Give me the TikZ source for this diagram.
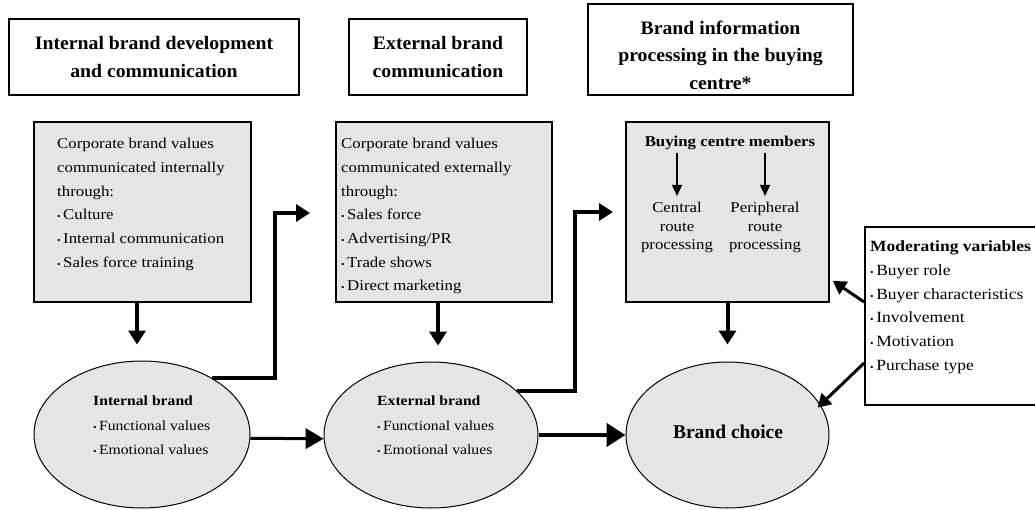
\documentclass[tikz,border=0pt]{standalone}
\usepackage{fontspec}
\setmainfont{Liberation Serif}
\newfontfamily\bodyfont{Liberation Serif}[FakeStretch=1.12]
\newfontfamily\headfont{Liberation Serif}[FakeStretch=1.04]
\usetikzlibrary{arrows.meta,shapes.geometric}
\newcommand\itm{{\fontsize{9}{9}\selectfont\textbullet}\,}

\begin{document}
\begin{tikzpicture}[x=1pt,y=-1pt,
  head/.style={draw, line width=1.3pt, inner sep=0pt},
  headtext/.style={align=center, inner sep=0pt, font=\headfont\bfseries\fontsize{19}{27.5}\selectfont},
  panel/.style={draw, line width=1.8pt, fill=black!10, inner sep=0pt},
  oval/.style={ellipse, draw, line width=1pt, fill=black!10, inner sep=0pt},
  txt/.style={anchor=north west, align=left, inner sep=0pt, font=\bodyfont\fontsize{15}{23.7}\selectfont},
  ovaltxt/.style={anchor=north west, align=left, inner sep=0pt, font=\bodyfont\fontsize{14}{24.5}\selectfont},
  route/.style={anchor=north, align=center, inner sep=0pt, font=\bodyfont\fontsize{15}{18.5}\selectfont},
  heavy/.style={line width=4pt, -{Triangle[width=17pt,length=14pt]}},
  thinarrow/.style={line width=1.2pt, -{Triangle[width=10pt,length=11pt]}},
  modarrow/.style={line width=3pt, -{Triangle[width=15pt,length=13pt]}},
]
\useasboundingbox (0,0) rectangle (1035,510);
\clip (0,0) rectangle (1035,510);

% column headings
\node[head, minimum width=290, minimum height=76] (H1) at (154,57) {};
\node[headtext] at (H1.center) {Internal brand development\\and communication};
\node[head, minimum width=178, minimum height=76] (H2) at (438,57) {};
\node[headtext] at (H2.center) {External brand\\communication};
\node[head, minimum width=265, minimum height=91] (H3) at (720.5,49.5) {};
\node[headtext] at ([yshift=-5.5pt]H3.center) {Brand information\\processing in the buying\\centre*};

% grey panels
\node[panel, minimum width=217, minimum height=180] (B1) at (142.5,212) {};
\node[panel, minimum width=216, minimum height=180] (B2) at (444,212) {};
\node[panel, minimum width=203, minimum height=180] (B3) at (727.5,212) {};

\node[txt] (T1) at (57,138) {Corporate brand values\\communicated internally\\through:\\\itm Culture\\\itm Internal communication\\\itm Sales force training};
\node[txt] (T2) at (341,138) {Corporate brand values\\communicated externally\\through:\\\itm Sales force\\\itm Advertising/PR\\\itm Trade shows\\\itm Direct marketing};

\node[inner sep=0pt, font=\bodyfont\bfseries\fontsize{15}{18}\selectfont] (mem) at (730,143) {Buying centre members};
\node[route] (cen) at (677,202) {Central\\route\\processing};
\node[route] (per) at (765,202) {Peripheral\\route\\processing};
\draw[thinarrow, shorten <=3pt, shorten >=6pt] (cen.north |- mem.south) -- (cen.north);
\draw[thinarrow, shorten <=3pt, shorten >=6pt] (per.north |- mem.south) -- (per.north);

% moderating variables
\node[panel, fill=white, minimum width=180, minimum height=178] (M) at (955,316) {};
\node[txt, font=\bodyfont\fontsize{15.6}{23.8}\selectfont] (MT) at (870,240.5) {\textbf{Moderating variables}\\\itm Buyer role\\\itm Buyer characteristics\\\itm Involvement\\\itm Motivation\\\itm Purchase type};

% brand ellipses
\node[oval, minimum width=216, minimum height=147] (E1) at (142,434.5) {};
\node[oval, minimum width=214, minimum height=146] (E2) at (431,435) {};
\node[oval, minimum width=203, minimum height=146] (E3) at (727.5,435) {};

\node[ovaltxt] (E1T) at (93,396) {\textbf{Internal brand}\\\itm Functional values\\\itm Emotional values};
\node[ovaltxt] (E2T) at (377,396) {\textbf{External brand}\\\itm Functional values\\\itm Emotional values};
\node[inner sep=0pt, font=\bfseries\fontsize{19.5}{22}\selectfont] (BC) at (728,432) {Brand choice};

% connectors
\draw[heavy, shorten >=16pt] ([xshift=-5.5pt]B1.south) -- ([xshift=-5.5pt]B1.south |- E1.north);
\draw[heavy, shorten >=16pt] ([xshift=-6pt]B2.south) -- ([xshift=-6pt]B2.south |- E2.north);
\draw[heavy, shorten >=17pt] (B3.south) -- (B3.south |- E3.north);

\coordinate (in2) at (310,213);
\coordinate (in3) at (613,212);
\draw[heavy] (E1.39) -| (275,213) -- (in2);
\draw[heavy] (E2.27) -| (575,212) -- (in3);

\draw[line width=3pt, -{Triangle[width=20pt,length=18pt]}] (E1.-2) -- (E2.182);
\draw[line width=4.5pt, -{Triangle[width=23pt,length=19pt]}] (E2.east) -- (E3.west);

\draw[modarrow] ([yshift=14pt]M.west) -- ([xshift=3pt,yshift=22pt]B3.south east);
\draw[modarrow, shorten >=-4pt] ([yshift=-47pt]M.west) -- (E3.18);
\end{tikzpicture}
\end{document}
